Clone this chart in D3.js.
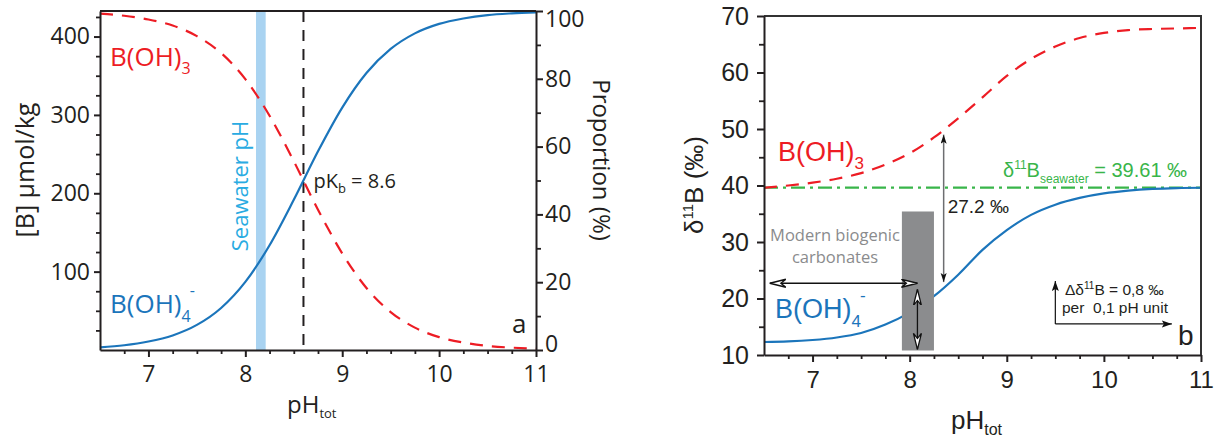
<!DOCTYPE html>
<html><head><meta charset="utf-8">
<script src="https://cdn.jsdelivr.net/npm/d3@7"></script>
<style>body{margin:0;background:#fff}svg{display:block}</style>
</head><body>
<svg id="c" width="1220" height="439"></svg>
<script>
// ---------- data ----------
const pH = [6.5,6.75,7,7.25,7.5,7.75,8,8.25,8.5,8.75,9,9.25,9.5,9.75,10,10.25,10.5,10.75,11];
const boratePct = [0.8,1.4,2.5,4.3,7.4,12.4,20.1,30.9,44.3,58.6,71.5,81.7,88.8,93.4,96.2,97.8,98.8,99.3,99.6];
const boricPct  = [99.2,98.6,97.5,95.7,92.6,87.6,79.9,69.1,55.7,41.4,28.5,18.3,11.2,6.6,3.8,2.2,1.2,0.7,0.4];
const d11Boric  = [39.6,40.0,40.5,41.2,42.2,43.7,45.7,48.5,51.9,55.6,59.4,62.4,64.6,66.1,67.0,67.5,67.7,67.8,67.9];
const d11Borate = [12.3,12.4,12.65,13.1,13.9,15.4,17.5,20.4,24.2,28.6,32.1,34.8,36.6,37.8,38.6,39.1,39.4,39.55,39.6];
const pHTicks = [7,8,9,10,11];
const pHMinor = [6.75,7.25,7.5,7.75,8.25,8.5,8.75,9.25,9.5,9.75,10.25,10.5,10.75];
const concTicks = [100,200,300,400];
const concMinor = [25,50,75,125,150,175,225,250,275,325,350,375,425];
const pctTicks = [0,20,40,60,80,100];
const pctMinor = [10,30,50,70,90];
const deltaTicks = [10,20,30,40,50,60,70];
const deltaMinor = [15,25,35,45,55,65];
const totalBoron = 432.6;
const seawaterBand = [8.11, 8.21];
const pKb = 8.6;
const d11Bseawater = 39.61;
const carbBoxPH = [7.92, 8.25];
const carbBoxD = [10.8, 35.4];
const fracArrowPH = 8.35, fracArrowD = [22.9, 49.0];
const biogenicArrowPH = [6.56, 8.08], biogenicArrowD = 22.7;
const biogenicVertPH = 8.08, biogenicVertD = [11.0, 21.6];
const legendCorner = [9.5, 15.5], legendUpD = 23.1, legendRightPH = 10.7;

// ---------- setup ----------
const svg = d3.select("#c");
const INK = "#231f20", RED = "#ed1c24", BLUE = "#1b75bb", GREEN = "#39b54a";
const FA = "'Open Sans', 'Noto Sans', sans-serif";
const FB = "'Liberation Sans', Arial, sans-serif";
const fmt = d3.format("d");

const defs = svg.append("defs");
function marker(id, path, w, h, fill, stroke, sw) {
  defs.append("marker").attr("id", id).attr("markerUnits", "userSpaceOnUse")
    .attr("markerWidth", w + 2).attr("markerHeight", h + 2)
    .attr("refX", w).attr("refY", h / 2).attr("orient", "auto-start-reverse")
    .attr("viewBox", `0 0 ${w + 2} ${h + 2}`)
    .append("path").attr("d", path).attr("fill", fill).attr("stroke", stroke).attr("stroke-width", sw);
}
marker("ab", "M0,0 L9,3 L0,6 L2,3 Z", 9, 6, "#111", "none", 0);
marker("ao", "M0,0.5 L16,4.5 L0,8.5 L5,4.5 Z", 16, 9, "#fff", "#111", 1.3);
marker("al", "M0,0 L10,3.5 L0,7 L2,3.5 Z", 10, 7, "#111", "none", 0);

function rich(parent, x, y, segs, attrs) {
  const t = parent.append("text").attr("x", x).attr("y", y);
  Object.entries(attrs || {}).forEach(([k, v]) => t.attr(k, v));
  let cur = 0;
  segs.forEach(s => {
    const off = s.off || 0;
    const ts = t.append("tspan").attr("dy", off - cur).text(s.t);
    if (s.size) ts.attr("font-size", s.size);
    if (s.dx) ts.attr("dx", s.dx);
    cur = off;
  });
  return t;
}

function styleAxis(g, font, size) {
  g.attr("font-family", font).attr("font-size", size);
  g.selectAll("path.domain").attr("stroke", INK).attr("stroke-width", 2);
  g.selectAll(".tick line").attr("stroke", INK).attr("stroke-width", 2);
  g.selectAll(".tick text").attr("fill", INK);
}
function minorAxis(g, axis) {
  g.call(axis);
  g.select("path.domain").remove();
  g.selectAll(".tick line").attr("stroke", INK).attr("stroke-width", 1.8);
}

const pts = (xs, ys) => xs.map((x, i) => [x, ys[i]]);

// ================= Panel a =================
const xA = d3.scaleLinear().domain([6.5, 11]).range([100, 536]);
const yPct = d3.scaleLinear().domain([0, 100]).range([350, 11]);
const yConc = d3.scaleLinear().domain([0, totalBoron]).range([350, 11]);
const A = svg.append("g");

A.append("rect").attr("x", xA(seawaterBand[0])).attr("width", xA(seawaterBand[1]) - xA(seawaterBand[0]))
  .attr("y", yPct(100)).attr("height", yPct(0) - yPct(100)).attr("fill", "#a9d3f1");

A.append("line").attr("x1", xA(pKb)).attr("x2", xA(pKb)).attr("y1", yPct(100)).attr("y2", yPct(0))
  .attr("stroke", INK).attr("stroke-width", 2).attr("stroke-dasharray", "11,8");

const lineA = d3.line().x(d => xA(d[0])).y(d => yPct(d[1])).curve(d3.curveMonotoneX);
A.append("path").attr("d", lineA(pts(pH, boricPct))).attr("fill", "none").attr("stroke", RED)
  .attr("stroke-width", 2.2).attr("stroke-dasharray", "13,9");
A.append("path").attr("d", lineA(pts(pH, boratePct))).attr("fill", "none").attr("stroke", BLUE)
  .attr("stroke-width", 2.2);

// top frame
A.append("line").attr("x1", xA(6.5)).attr("x2", xA(11)).attr("y1", yPct(100)).attr("y2", yPct(100))
  .attr("stroke", INK).attr("stroke-width", 2);

// axes
const gAb = A.append("g").attr("transform", `translate(0,${yPct(0)})`);
gAb.call(d3.axisBottom(xA).tickValues(pHTicks).tickFormat(fmt).tickSize(7).tickSizeOuter(0));
styleAxis(gAb, FA, 23);
gAb.selectAll(".tick text").attr("y", 32).attr("dy", null);
minorAxis(A.append("g").attr("transform", `translate(0,${yPct(0)})`),
  d3.axisBottom(xA).tickValues(pHMinor).tickSize(4).tickFormat(""));

const gAl = A.append("g").attr("transform", `translate(${xA(6.5)},0)`);
gAl.call(d3.axisLeft(yConc).tickValues(concTicks).tickFormat(fmt).tickSize(6).tickPadding(4).tickSizeOuter(0));
styleAxis(gAl, FA, 23);
minorAxis(A.append("g").attr("transform", `translate(${xA(6.5)},0)`),
  d3.axisLeft(yConc).tickValues(concMinor).tickSize(4).tickFormat(""));

const gAr = A.append("g").attr("transform", `translate(${xA(11)},0)`);
gAr.call(d3.axisRight(yPct).tickValues(pctTicks).tickFormat(fmt).tickSize(7).tickPadding(2).tickSizeOuter(0));
styleAxis(gAr, FA, 23);
// end labels nudged inward as in the original
gAr.selectAll(".tick text").attr("dy", d => d === 100 ? "0.68em" : d === 0 ? "0.05em" : "0.32em");
minorAxis(A.append("g").attr("transform", `translate(${xA(11)},0)`),
  d3.axisRight(yPct).tickValues(pctMinor).tickSize(5).tickFormat(""));

// titles & labels
A.append("text").attr("transform", "translate(34,170) rotate(-90)").attr("text-anchor", "middle")
  .attr("font-family", FA).attr("font-size", 25).attr("fill", INK).text("[B] µmol/kg");
A.append("text").attr("transform", "translate(593,160) rotate(90)").attr("text-anchor", "middle")
  .attr("font-family", FA).attr("font-size", 24).attr("fill", INK).text("Proportion (%)");
rich(A, 287, 413, [{t: "pH"}, {t: "tot", size: 13, off: 5}], {"font-family": FA, "font-size": 24, fill: INK});

rich(A, 110, 66, [{t: "B(OH)"}, {t: "3", size: 16, off: 8}], {"font-family": FA, "font-size": 26, fill: RED});
rich(A, 110, 313, [{t: "B(OH)"}, {t: "4", size: 16, off: 9}, {t: "-", size: 16, off: -17, dx: -1}],
  {"font-family": FA, "font-size": 26, fill: BLUE});
A.append("text").attr("transform", `translate(${xA(seawaterBand[0]) - 8},186) rotate(-90)`)
  .attr("text-anchor", "middle").attr("font-family", FA).attr("font-size", 22).attr("fill", "#29abe2")
  .text("Seawater pH");
rich(A, xA(pKb) + 10, 188, [{t: "pK"}, {t: "b", size: 13, off: 5}, {t: " = 8.6", off: 0}],
  {"font-family": FA, "font-size": 20, fill: INK});
A.append("text").attr("x", 512).attr("y", 333).attr("font-family", FA).attr("font-size", 26)
  .attr("fill", INK).text("a");

// ================= Panel b =================
const xB = d3.scaleLinear().domain([6.5, 11]).range([764, 1201]);
const yB = d3.scaleLinear().domain([10, 70]).range([355, 16]);
const B = svg.append("g");

B.append("line").attr("x1", xB(6.5)).attr("x2", xB(11)).attr("y1", yB(d11Bseawater)).attr("y2", yB(d11Bseawater))
  .attr("stroke", GREEN).attr("stroke-width", 2.2).attr("stroke-dasharray", "14,5,3,5");

const lineB = d3.line().x(d => xB(d[0])).y(d => yB(d[1])).curve(d3.curveMonotoneX);
B.append("path").attr("d", lineB(pts(pH, d11Boric))).attr("fill", "none").attr("stroke", RED)
  .attr("stroke-width", 2.2).attr("stroke-dasharray", "13,9");
B.append("path").attr("d", lineB(pts(pH, d11Borate))).attr("fill", "none").attr("stroke", BLUE)
  .attr("stroke-width", 2.2);

B.append("rect").attr("x", xB(carbBoxPH[0])).attr("width", xB(carbBoxPH[1]) - xB(carbBoxPH[0]))
  .attr("y", yB(carbBoxD[1])).attr("height", yB(carbBoxD[0]) - yB(carbBoxD[1])).attr("fill", "#8b8c8e");

// fractionation arrow
B.append("line").attr("x1", xB(fracArrowPH)).attr("x2", xB(fracArrowPH))
  .attr("y1", yB(fracArrowD[0])).attr("y2", yB(fracArrowD[1]))
  .attr("stroke", "#6d6e71").attr("stroke-width", 1.5)
  .attr("marker-start", "url(#ab)").attr("marker-end", "url(#ab)");
B.append("text").attr("x", xB(fracArrowPH) + 4).attr("y", 213).attr("font-family", FB).attr("font-size", 19)
  .attr("fill", INK).text("27.2 ‰");

// biogenic arrows
B.append("line").attr("x1", xB(biogenicArrowPH[0])).attr("x2", xB(biogenicArrowPH[1]))
  .attr("y1", yB(biogenicArrowD)).attr("y2", yB(biogenicArrowD))
  .attr("stroke", "#111").attr("stroke-width", 1.3)
  .attr("marker-start", "url(#ao)").attr("marker-end", "url(#ao)");
B.append("line").attr("x1", xB(biogenicVertPH)).attr("x2", xB(biogenicVertPH))
  .attr("y1", yB(biogenicVertD[0])).attr("y2", yB(biogenicVertD[1]))
  .attr("stroke", "#111").attr("stroke-width", 1.3)
  .attr("marker-start", "url(#ao)").attr("marker-end", "url(#ao)");
B.append("text").attr("x", 835).attr("y", 241).attr("text-anchor", "middle").attr("font-family", FA)
  .attr("font-size", 16.5).attr("fill", "#8a8b8d").text("Modern biogenic");
B.append("text").attr("x", 835).attr("y", 263).attr("text-anchor", "middle").attr("font-family", FA)
  .attr("font-size", 16.5).attr("fill", "#8a8b8d").text("carbonates");

// legend arrows
B.append("line").attr("x1", xB(legendCorner[0])).attr("x2", xB(legendCorner[0]))
  .attr("y1", yB(legendCorner[1])).attr("y2", yB(legendUpD)).attr("stroke", "#111").attr("stroke-width", 1.2)
  .attr("marker-end", "url(#al)");
B.append("line").attr("x1", xB(legendCorner[0])).attr("x2", xB(legendRightPH))
  .attr("y1", yB(legendCorner[1])).attr("y2", yB(legendCorner[1])).attr("stroke", "#111").attr("stroke-width", 1.2)
  .attr("marker-end", "url(#al)");
rich(B, 1065, 295, [{t: "Δδ"}, {t: "11", size: 10, off: -6}, {t: "B = 0,8 ‰", off: 0}],
  {"font-family": FB, "font-size": 15.5, fill: INK});
B.append("text").attr("x", 1062).attr("y", 313).attr("font-family", FB).attr("font-size", 15.5)
  .attr("fill", INK).style("white-space", "pre").text("per  0,1 pH unit");

// frame
B.append("path").attr("d", `M${xB(6.5)},${yB(70)} H${xB(11)} V${yB(10)}`).attr("fill", "none")
  .attr("stroke", "#333").attr("stroke-width", 2);

const gBb = B.append("g").attr("transform", `translate(0,${yB(10)})`);
gBb.call(d3.axisBottom(xB).tickValues(pHTicks).tickFormat(fmt).tickSize(7).tickSizeOuter(0));
styleAxis(gBb, FB, 24);
gBb.selectAll(".tick text").attr("y", 33).attr("dy", null);
minorAxis(B.append("g").attr("transform", `translate(0,${yB(10)})`),
  d3.axisBottom(xB).tickValues(pHMinor).tickSize(4).tickFormat(""));

const gBl = B.append("g").attr("transform", `translate(${xB(6.5)},0)`);
gBl.call(d3.axisLeft(yB).tickValues(deltaTicks).tickFormat(fmt).tickSize(7).tickPadding(8).tickSizeOuter(0));
styleAxis(gBl, FB, 25);
minorAxis(B.append("g").attr("transform", `translate(${xB(6.5)},0)`),
  d3.axisLeft(yB).tickValues(deltaMinor).tickSize(5).tickFormat(""));

// labels
rich(B, 1003, 177, [{t: "δ"}, {t: "11", size: 12, off: -8}, {t: "B", off: 0}, {t: "seawater", size: 12, off: 6},
  {t: " = 39.61 ‰", off: 0}], {"font-family": FB, "font-size": 20, fill: GREEN});
rich(B, 778, 161, [{t: "B(OH)"}, {t: "3", size: 17, off: 8}], {"font-family": FB, "font-size": 27, fill: RED});
rich(B, 775, 318, [{t: "B(OH)"}, {t: "4", size: 17, off: 9}, {t: "-", size: 17, off: -17, dx: -1}],
  {"font-family": FB, "font-size": 27, fill: BLUE});
B.append("text").attr("x", 1178).attr("y", 345).attr("font-family", FB).attr("font-size", 28)
  .attr("fill", INK).text("b");
rich(B, 951, 429, [{t: "pH"}, {t: "tot", size: 16, off: 6}], {"font-family": FB, "font-size": 26, fill: INK});
rich(B, 0, 0, [{t: "δ"}, {t: "11", size: 15, off: -10}, {t: "B (‰)", off: 0}],
  {"font-family": FB, "font-size": 26, fill: INK, "text-anchor": "middle", transform: "translate(703,185) rotate(-90)"});
</script>
</body></html>
